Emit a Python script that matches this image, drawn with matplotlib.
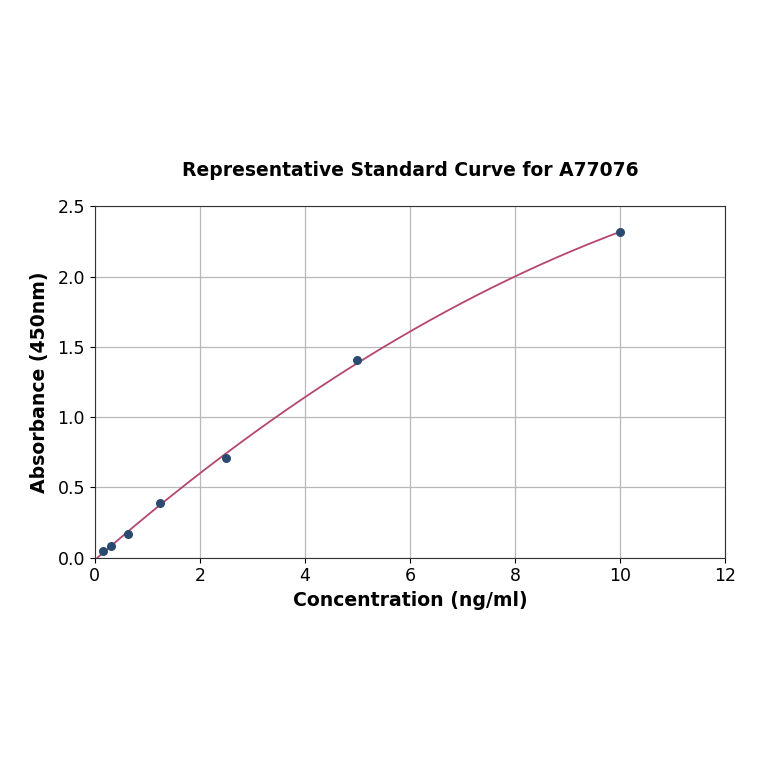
import numpy as np
import matplotlib
matplotlib.use("Agg")
import matplotlib.pyplot as plt

# standard points
conc = [0.156, 0.3125, 0.625, 1.25, 2.5, 5.0, 10.0]
absorb = [0.05, 0.085, 0.17, 0.39, 0.71, 1.405, 2.315]

xticks = [0, 2, 4, 6, 8, 10, 12]
yticks = [0.0, 0.5, 1.0, 1.5, 2.0, 2.5]

# fitted line from the points
coef = np.polyfit(conc, absorb, 2)
xfit = np.linspace(0, max(conc), 200)
yfit = np.polyval(coef, xfit)

fig = plt.figure(figsize=(7.64, 7.64), dpi=100)
ax = fig.add_axes([0.124, 0.27, 0.825, 0.46])

ax.plot(xfit, yfit, color="#b5466f", lw=1.3, zorder=3)
ax.scatter(conc, absorb, s=30, color="#2b4a6f", zorder=4)

ax.set_xlim(0, 12)
ax.set_ylim(0, 2.5)
ax.set_xticks(xticks)
ax.set_yticks(yticks)
ax.set_yticklabels([f"{v:.1f}" for v in yticks])
ax.tick_params(labelsize=12.5)
ax.grid(True, color="#b8b8b8", lw=0.9)
ax.set_axisbelow(True)
for s in ax.spines.values():
    s.set_color("#333333")

ax.set_title("Representative Standard Curve for A77076", fontsize=13.5, fontweight="bold", pad=22)
ax.set_xlabel("Concentration (ng/ml)", fontsize=13.6, fontweight="bold")
ax.set_ylabel("Absorbance (450nm)", fontsize=13.6, fontweight="bold", labelpad=6)

fig.savefig("out.png", dpi=100)
